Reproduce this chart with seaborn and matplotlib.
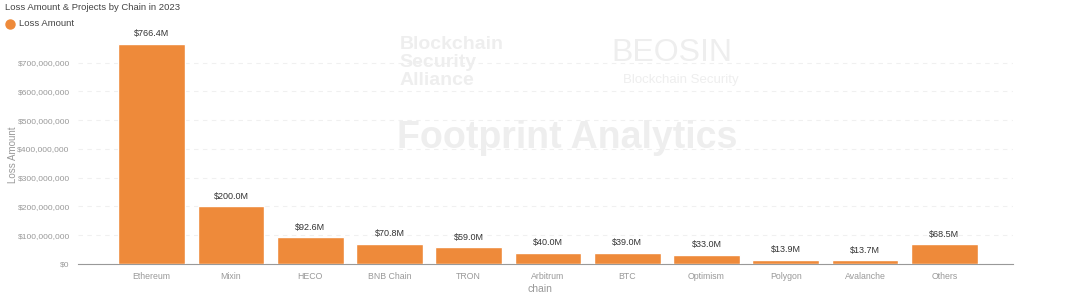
import matplotlib
matplotlib.use("Agg")
import matplotlib.pyplot as plt
from matplotlib.lines import Line2D
import seaborn as sns
import pandas as pd
from matplotlib.ticker import FuncFormatter

chains = ["Ethereum", "Mixin", "HECO", "BNB Chain", "TRON", "Arbitrum", "BTC",
          "Optimism", "Polygon", "Avalanche", "Others"]
loss_millions = [766.4, 200.0, 92.6, 70.8, 59.0, 40.0, 39.0, 33.0, 13.9, 13.7, 68.5]
y_ticks = [0, 100e6, 200e6, 300e6, 400e6, 500e6, 600e6, 700e6]

df = pd.DataFrame({"chain": chains, "loss": [v * 1e6 for v in loss_millions]})

sns.set_theme(style="white")
plt.rcParams["font.family"] = ["Liberation Sans", "DejaVu Sans"]

orange = "#EE8A3A"
fig = plt.figure(figsize=(10.8, 2.97), dpi=100)
ax = fig.add_axes([0.0722, 0.111, 0.866, 0.775])

sns.barplot(data=df, x="chain", y="loss", color=orange, width=0.84,
            saturation=1, ax=ax, zorder=3)

ax.set_xlim(-0.93, 10.87)
ax.set_ylim(0, 800e6)
ax.set_yticks(y_ticks)
ax.yaxis.set_major_formatter(FuncFormatter(lambda v, p: f"${v:,.0f}"))
ax.tick_params(axis="y", labelsize=6.1, colors="#999999", length=0, pad=6)
ax.tick_params(axis="x", labelsize=6.3, colors="#999999", length=0, pad=6)
ax.grid(axis="y", color="#f0f0f0", linestyle=(0, (4, 4)), linewidth=0.8, zorder=0)
for s in ["top", "right", "left"]:
    ax.spines[s].set_visible(False)
ax.spines["bottom"].set_color("#999999")
ax.spines["bottom"].set_linewidth(0.8)
ax.set_ylabel("Loss Amount", fontsize=7, color="#999999")
ax.set_xlabel("chain", fontsize=7.5, color="#999999")
ax.yaxis.set_label_coords(13 / 1080, 1 - 155 / 297, transform=fig.transFigure)
ax.xaxis.set_label_coords(0.5, 1 - 289 / 297, transform=fig.transFigure)
ax.xaxis.label.set_va("center")
ax.yaxis.label.set_va("center")

for i, v in enumerate(loss_millions):
    ax.annotate(f"${v:.1f}M", (i, v * 1e6), xytext=(0, 4), textcoords="offset points",
                ha="center", va="bottom", fontsize=6.5, color="#333333")

# watermarks
wm = "#eeeeee"
fig.text(0.37, 0.79, "Blockchain\nSecurity\nAlliance", fontsize=14, fontweight="bold",
         color=wm, ha="left", va="center", linespacing=1.05, zorder=0)
fig.text(0.566, 0.82, "BEOSIN", fontsize=23, color=wm, ha="left", va="center", zorder=0)
fig.text(0.577, 0.73, "Blockchain Security", fontsize=9.5, color=wm, ha="left", va="center", zorder=0)
fig.text(0.368, 0.535, "Footprint Analytics", fontsize=27, fontweight="bold",
         color=wm, ha="left", va="center", zorder=0)

fig.text(0.005, 0.975, "Loss Amount & Projects by Chain in 2023", fontsize=6.8,
         color="#444444", ha="left", va="center")
fig.add_artist(Line2D([10 / 1080], [1 - 24 / 297], marker="o", markersize=6.5,
                      color=orange, transform=fig.transFigure, linestyle="none"))
fig.text(19 / 1080, 1 - 24 / 297, "Loss Amount", fontsize=6.8, color="#444444",
         ha="left", va="center")

fig.savefig("out.png", dpi=100)
